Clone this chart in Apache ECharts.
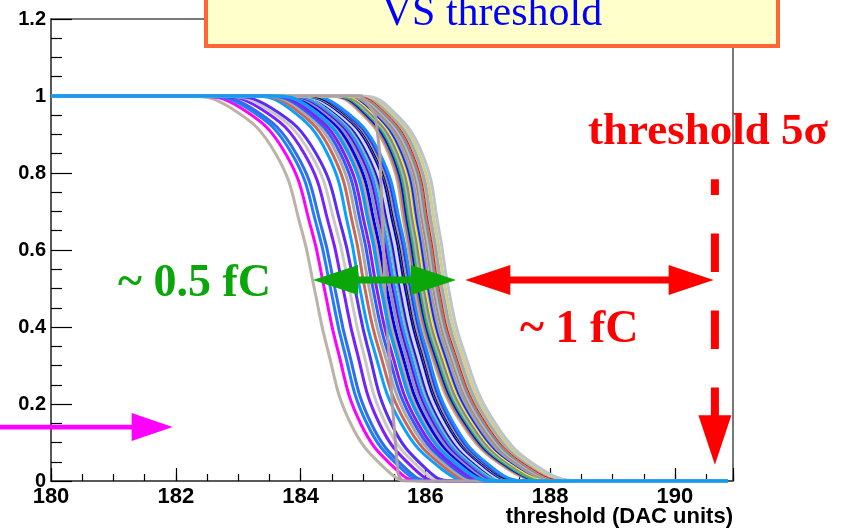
<!DOCTYPE html>
<html>
<head>
<meta charset="utf-8">
<script src="https://cdn.jsdelivr.net/npm/echarts@6/dist/echarts.min.js"></script>
<style>
  html, body { margin: 0; padding: 0; background: #ffffff; }
  #chart { width: 846px; height: 529px; }
</style>
</head>
<body>
<div id="chart"></div>
<script>
// Efficiency levels at which each channel's threshold scan is sampled
const LEVELS = [1, 0.97, 0.85, 0.65, 0.5, 0.35, 0.15, 0.03, 0];
// Scan range (DAC units)
const X_START = 180;
const X_END = 190.85;

// Threshold (DAC) where each channel reaches the matching LEVELS value
const crossings = [
  [182.12, 182.87, 183.60, 184.02, 184.22, 184.42, 184.80, 185.37, 185.77],
  [182.28, 183.03, 183.76, 184.18, 184.38, 184.58, 184.96, 185.53, 185.93],
  [182.38, 183.13, 183.86, 184.28, 184.48, 184.68, 185.06, 185.63, 186.03],
  [182.45, 183.20, 183.93, 184.35, 184.55, 184.75, 185.13, 185.70, 186.10],
  [182.58, 183.33, 184.06, 184.48, 184.68, 184.88, 185.26, 185.83, 186.23],
  [182.68, 183.43, 184.16, 184.58, 184.78, 184.98, 185.36, 185.93, 186.33],
  [182.77, 183.52, 184.25, 184.67, 184.87, 185.07, 185.45, 186.02, 186.42],
  [183.20, 183.80, 184.43, 184.78, 184.95, 185.16, 185.61, 186.27, 186.80],
  [183.28, 183.88, 184.51, 184.86, 185.03, 185.24, 185.69, 186.35, 186.88],
  [183.35, 183.95, 184.58, 184.93, 185.10, 185.31, 185.76, 186.42, 186.95],
  [183.41, 184.01, 184.64, 184.99, 185.16, 185.37, 185.82, 186.48, 187.01],
  [183.47, 184.07, 184.70, 185.05, 185.22, 185.43, 185.88, 186.54, 187.07],
  [183.58, 184.18, 184.81, 185.16, 185.33, 185.54, 185.99, 186.65, 187.18],
  [183.63, 184.23, 184.86, 185.21, 185.38, 185.59, 186.04, 186.70, 187.23],
  [183.68, 184.28, 184.91, 185.26, 185.43, 185.64, 186.09, 186.75, 187.28],
  [183.73, 184.33, 184.96, 185.31, 185.48, 185.69, 186.14, 186.80, 187.33],
  [183.76, 184.36, 184.99, 185.34, 185.51, 185.72, 186.17, 186.83, 187.36],
  [183.81, 184.41, 185.04, 185.39, 185.56, 185.77, 186.22, 186.88, 187.41],
  [183.85, 184.45, 185.08, 185.43, 185.60, 185.81, 186.26, 186.92, 187.45],
  [183.88, 184.48, 185.11, 185.46, 185.63, 185.84, 186.29, 186.95, 187.48],
  [183.93, 184.53, 185.16, 185.51, 185.68, 185.89, 186.34, 187.00, 187.53],
  [183.96, 184.56, 185.19, 185.54, 185.71, 185.92, 186.37, 187.03, 187.56],
  [184.01, 184.61, 185.24, 185.59, 185.76, 185.97, 186.42, 187.08, 187.61],
  [184.04, 184.64, 185.27, 185.62, 185.79, 186.00, 186.45, 187.11, 187.64],
  [184.43, 184.88, 185.41, 185.68, 185.83, 186.05, 186.58, 187.33, 188.03],
  [184.46, 184.91, 185.44, 185.71, 185.86, 186.08, 186.61, 187.36, 188.06],
  [184.49, 184.94, 185.47, 185.74, 185.89, 186.11, 186.64, 187.39, 188.09],
  [184.52, 184.97, 185.50, 185.77, 185.92, 186.14, 186.67, 187.42, 188.12],
  [184.55, 185.00, 185.53, 185.80, 185.95, 186.17, 186.70, 187.45, 188.15],
  [184.58, 185.03, 185.56, 185.83, 185.98, 186.20, 186.73, 187.48, 188.18],
  [184.62, 185.07, 185.60, 185.87, 186.02, 186.24, 186.77, 187.52, 188.22],
  [184.65, 185.10, 185.63, 185.90, 186.05, 186.27, 186.80, 187.55, 188.25],
  [184.68, 185.13, 185.66, 185.93, 186.08, 186.30, 186.83, 187.58, 188.28],
  [184.73, 185.18, 185.71, 185.98, 186.13, 186.35, 186.88, 187.63, 188.33],
  [184.76, 185.21, 185.74, 186.01, 186.16, 186.38, 186.91, 187.66, 188.36],
  [184.79, 185.24, 185.77, 186.04, 186.19, 186.41, 186.94, 187.69, 188.39],
  [184.84, 185.29, 185.82, 186.09, 186.24, 186.46, 186.99, 187.74, 188.44],
  [184.87, 185.32, 185.85, 186.12, 186.27, 186.49, 187.02, 187.77, 188.47],
  [184.92, 185.37, 185.90, 186.17, 186.32, 186.54, 187.07, 187.82, 188.52],
  [184.97, 185.42, 185.95, 186.22, 186.37, 186.59, 187.12, 187.87, 188.57]
];
const channelColors = [
  '#bcb2a6', '#ff00ff', '#1f7fff', '#2f6fe8', '#7b1fff', '#c8c8c8', '#5a2cf5',
  '#0aa0ff', '#c8685a', '#a9a9a9', '#2f5cff', '#8a1cf0', '#d2a37c', '#0000ff',
  '#8696ad', '#6a00e8', '#2a8cff', '#c77a6a', '#1414ff', '#d9d9d9', '#0000e6',
  '#9a9a9a', '#2a3cff', '#1f8df5', '#ccaa86', '#a97868', '#0010ff', '#7888a8',
  '#9cc09e', '#878787', '#d8b88e', '#0a2cff', '#9c9cae', '#a88a78', '#aebdcc',
  '#8c8c8c', '#c8bc80', '#9aabbb', '#d4cc88', '#b9c5cd'
];

// Channels drawn with a hairline
const thinCrossings = [
  [183.95, 184.55, 185.18, 185.53, 185.70, 185.91, 186.36, 187.02, 187.55],
  [184.60, 185.05, 185.58, 185.85, 186.00, 186.22, 186.75, 187.50, 188.20],
  [184.82, 185.27, 185.80, 186.07, 186.22, 186.44, 186.97, 187.72, 188.42],
  [184.50, 184.95, 185.48, 185.75, 185.90, 186.12, 186.65, 187.40, 188.10],
  [183.80, 184.40, 185.03, 185.38, 185.55, 185.76, 186.21, 186.87, 187.40]
];
const thinColors = ['#000000', '#ffff00', '#ff0000', '#00cc00', '#00ffff'];

// Coarsely sampled channel (drawn point to point)
const coarseX = [180, 184.98, 185.20, 185.27, 185.36, 185.47, 185.56, 185.62, 190.85];
const coarseY = [1, 1, 0.95, 0.85, 0.47, 0.2, 0.02, 0, 0];

// Channel drawn on top of all others
const topCrossings = [183.54, 184.14, 184.77, 185.12, 185.29, 185.50, 185.95, 186.61, 187.14];

// Tick labels
const xTicks = [180, 182, 184, 186, 188, 190];
const yTicks = [0, 0.2, 0.4, 0.6, 0.8, 1, 1.2];

function curveData(xs) {
  const pts = [[X_START, 1]];
  xs.forEach((x, i) => pts.push([x, LEVELS[i]]));
  pts.push([X_END, 0]);
  return pts;
}

function curveSeries(xs, color, width, smooth) {
  return {
    type: 'line',
    data: xs,
    showSymbol: false,
    symbol: 'none',
    smooth: smooth,
    silent: true,
    lineStyle: { color: color, width: width },
    z: 2
  };
}

const series = [];
crossings.forEach((xs, i) => series.push(curveSeries(curveData(xs), channelColors[i], 3, 0.45)));
thinCrossings.forEach((xs, i) => series.push(curveSeries(curveData(xs), thinColors[i], 1, 0.45)));
series.push(curveSeries(coarseX.map((x, i) => [x, coarseY[i]]), '#b09ea2', 3, false));
series.push(curveSeries(curveData(topCrossings), '#0f9cf5', 3.5, 0.45));

const AXIS_COLOR = '#4d4d4d';
const X_MAX = 190.93;

const chart = echarts.init(document.getElementById('chart'), null, { renderer: 'canvas' });

chart.setOption({
  animation: false,
  backgroundColor: '#ffffff',
  grid: {
    left: 51, right: 113, top: 19, bottom: 48,
    show: true, borderColor: AXIS_COLOR, borderWidth: 1.5, backgroundColor: 'transparent'
  },
  xAxis: [
    {
      type: 'value', min: X_START, max: X_MAX, interval: 2,
      axisLine: { show: true, onZero: false, lineStyle: { color: AXIS_COLOR, width: 1.5 } },
      axisTick: { show: true, inside: true, length: 13, lineStyle: { color: '#000', width: 1.2 } },
      axisLabel: {
        margin: 5,
        color: '#000',
        fontFamily: 'Liberation Sans, Arial, sans-serif',
        fontWeight: 'bold',
        fontSize: 22,
        formatter: v => (xTicks.indexOf(v) >= 0 ? String(v) : '')
      },
      splitLine: { show: false }
    },
    {
      type: 'value', min: X_START, max: X_MAX, interval: 0.5,
      position: 'bottom',
      axisLine: { show: false },
      axisTick: { show: true, inside: true, length: 7, lineStyle: { color: '#000', width: 1.2 } },
      axisLabel: { show: false },
      splitLine: { show: false }
    }
  ],
  yAxis: {
    type: 'value', min: 0, max: 1.2, interval: 0.2,
    axisLine: { show: true, lineStyle: { color: AXIS_COLOR, width: 1.5 } },
    axisTick: { show: true, inside: true, length: 21, lineStyle: { color: '#000', width: 1.2 } },
    minorTick: { show: true, splitNumber: 4, length: 11, lineStyle: { color: '#000', width: 1.2 } },
    axisLabel: {
      margin: 5,
      color: '#000',
      fontFamily: 'Liberation Sans, Arial, sans-serif',
      fontWeight: 'bold',
      fontSize: 20,
      formatter: v => {
        const t = yTicks.find(k => Math.abs(k - v) < 1e-9);
        return t === undefined ? '' : String(t);
      }
    },
    splitLine: { show: false }
  },
  series: series
});

// Annotation geometry in data coordinates
const SPAN_Y = 0.522;
const greenSpan = [184.2, 186.49];
const redSpan = [186.64, 190.62];
const cutX = 190.64;
const cutDash = [0.143, 0.784];
const cutHead = [0.171, 0.042];
const pinkArrow = { y: 0.14, from: 179.17, to: 181.95 };

const px = (x, y) => chart.convertToPixel({ xAxisIndex: 0, yAxisIndex: 0 }, [x, y]);

function arrowPoints(p0, p1, sh, hl, hh, both) {
  const dx = p1[0] - p0[0], dy = p1[1] - p0[1];
  const len = Math.hypot(dx, dy);
  const ux = dx / len, uy = dy / len;
  const nx = -uy, ny = ux;
  const P = (b, a, n) => [b[0] + ux * a + nx * n, b[1] + uy * a + ny * n];
  if (both) {
    return [
      p0, P(p0, hl, hh), P(p0, hl, sh), P(p1, -hl, sh), P(p1, -hl, hh), p1,
      P(p1, -hl, -hh), P(p1, -hl, -sh), P(p0, hl, -sh), P(p0, hl, -hh)
    ];
  }
  return [
    P(p0, 0, sh), P(p1, -hl, sh), P(p1, -hl, hh), p1,
    P(p1, -hl, -hh), P(p1, -hl, -sh), P(p0, 0, -sh)
  ];
}

const serif = 'Liberation Serif, "Times New Roman", serif';
const graphics = [];

// green span arrow
graphics.push({
  type: 'polygon', z: 10, silent: true,
  shape: { points: arrowPoints(px(greenSpan[0], SPAN_Y), px(greenSpan[1], SPAN_Y), 3.5, 45, 15, true) },
  style: { fill: '#0aa60a' }
});
// red span arrow
graphics.push({
  type: 'polygon', z: 10, silent: true,
  shape: { points: arrowPoints(px(redSpan[0], SPAN_Y), px(redSpan[1], SPAN_Y), 3.5, 45, 15, true) },
  style: { fill: '#ff0000' }
});
// dashed 5 sigma marker
const d0 = px(cutX, cutDash[0]), d1 = px(cutX, cutDash[1]);
graphics.push({
  type: 'line', z: 10, silent: true,
  shape: { x1: d0[0], y1: d0[1], x2: d1[0], y2: d1[1] },
  style: { stroke: '#ff0000', lineWidth: 8, lineDash: [38.5, 38.5], lineCap: 'butt' }
});
const h0 = px(cutX, cutHead[0]), h1 = px(cutX, cutHead[1]);
graphics.push({
  type: 'polygon', z: 10, silent: true,
  shape: { points: [[h0[0] - 16.5, h0[1]], [h0[0] + 16.5, h0[1]], h1] },
  style: { fill: '#ff0000' }
});
// magenta arrow
graphics.push({
  type: 'polygon', z: 10, silent: true,
  shape: { points: arrowPoints(px(pinkArrow.from, pinkArrow.y), px(pinkArrow.to, pinkArrow.y), 2.3, 41, 14, false) },
  style: { fill: '#ff00ff' }
});

// text annotations
graphics.push({
  type: 'text', z: 11, silent: true,
  style: { x: 118, y: 284, text: '~ 0.5 fC', fill: '#0aa60a', font: 'bold 46px ' + serif, textAlign: 'left', textVerticalAlign: 'middle' }
});
graphics.push({
  type: 'text', z: 11, silent: true,
  style: { x: 520, y: 330, text: '~ 1 fC', fill: '#ff0000', font: 'bold 46px ' + serif, textAlign: 'left', textVerticalAlign: 'middle' }
});
graphics.push({
  type: 'text', z: 11, silent: true,
  style: { x: 588, y: 132, text: 'threshold 5σ', fill: '#ff0000', font: 'bold 45px ' + serif, textAlign: 'left', textVerticalAlign: 'middle' }
});
// title box
graphics.push({
  type: 'rect', z: 20, silent: true,
  shape: { x: 206, y: -10, width: 572, height: 56 },
  style: { fill: '#ffffcc', stroke: '#ff6633', lineWidth: 4 }
});
graphics.push({
  type: 'text', z: 21, silent: true,
  style: { x: 492, y: 14, text: 'VS threshold', fill: '#0000ff', font: '42px ' + serif, textAlign: 'center', textVerticalAlign: 'middle' }
});
// x axis title
graphics.push({
  type: 'text', z: 11, silent: true,
  style: { x: 733, y: 517, text: 'threshold (DAC units)', fill: '#000', font: 'bold 22px "Liberation Sans", Arial, sans-serif', textAlign: 'right', textVerticalAlign: 'middle' }
});

chart.setOption({ graphic: graphics });
</script>
</body>
</html>
